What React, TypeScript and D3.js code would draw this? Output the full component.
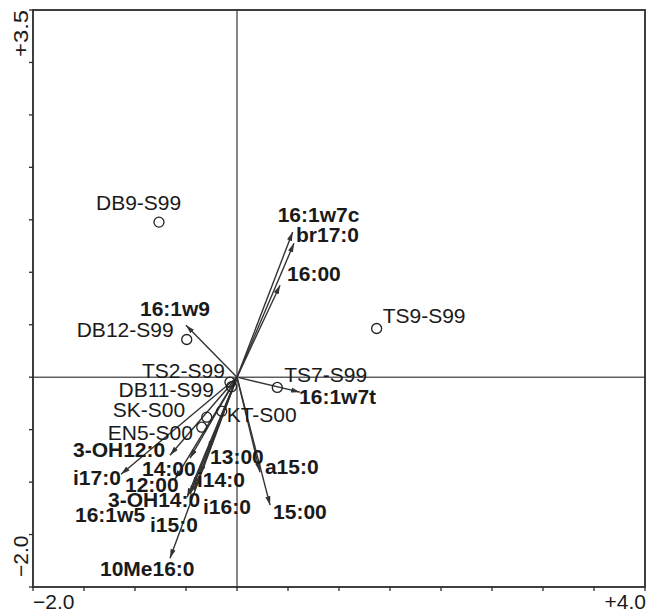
import React from "react";
import * as d3 from "d3";

// ---- data ----
const siteNames = ["DB9-S99", "DB12-S99", "TS9-S99", "TS7-S99", "TS2-S99", "DB11-S99", "SK-S00", "KT-S00", "EN5-S00"];
const siteX = [-0.765, -0.493, 1.369, 0.395, -0.069, -0.054, -0.297, -0.15, -0.346];
const siteY = [1.478, 0.359, 0.464, -0.098, -0.048, -0.091, -0.381, -0.324, -0.477];

const speciesNames = ["16:1w7c", "br17:0", "16:00", "16:1w9", "16:1w7t", "a15:0", "15:00", "13:00", "14:00", "3-OH12:0", "i17:0", "12:00", "i14:0", "i16:0", "3-OH14:0", "16:1w5", "i15:0", "10Me16:0"];
const speciesX = [0.546, 0.559, 0.422, -0.5, 0.618, 0.225, 0.324, -0.284, -0.461, -0.657, -1.137, -0.608, -0.363, -0.422, -0.461, -0.49, -0.431, -0.657];
const speciesY = [1.385, 1.277, 0.877, 0.496, -0.143, -0.906, -1.22, -0.696, -0.772, -0.744, -0.925, -0.972, -0.925, -1.077, -1.115, -1.144, -1.039, -1.725];

const xDomain = [-2, 4];
const yDomain = [-2, 3.5];
const xTickLabels = ["\u22122.0", "+4.0"];
const yTickLabels = ["\u22122.0", "+3.5"];

// ---- layout (label offsets in px, relative to point / arrow tip) ----
const siteLabelOffset: [number, number][] = [
  [-63, -12], [-110, -3], [6, -6], [7, -5], [-88, -4], [-113, 10], [-94, 0], [5, 11], [-94, 13],
];
const speciesLabelOffset: [number, number][] = [
  [-15, -10], [2, -1], [7, -4], [-46, -9], [-1, 12], [5, 2], [3, 14], [2, 14], [-48, 18],
  [-97, 2], [-48, 11], [-50, 13], [-3, 13], [9, 24], [-82, 13], [-112, 25], [-43, 46], [-70, 18],
];

const W = 659;
const H = 612;
const left = 33, right = 645, top = 10, bottom = 587;
const FONT = "'Liberation Sans', Arial, Helvetica, sans-serif";

export default function App() {
  const x = d3.scaleLinear().domain(xDomain).range([left, right]);
  const y = d3.scaleLinear().domain(yDomain).range([bottom, top]);
  const xTicks = d3.range(xDomain[0], xDomain[1] + 0.001, 0.5);
  const yTicks = d3.range(yDomain[0], yDomain[1] + 0.001, 0.5);
  const ox = x(0), oy = y(0);

  return (
    <svg width={W} height={H} style={{ position: "absolute", left: 0, top: 0, display: "block", background: "#fff" }} fontFamily={FONT}>
      <defs>
        <marker id="ah" viewBox="0 -3 9 6" refX="9" refY="0" markerWidth="9" markerHeight="6" markerUnits="userSpaceOnUse" orient="auto">
          <path d="M0,-2.6L9,0L0,2.6Z" fill="#333" />
        </marker>
      </defs>
      {/* zero lines */}
      <line x1={left} x2={right} y1={oy} y2={oy} stroke="#111" strokeWidth={1} />
      <line x1={ox} x2={ox} y1={top} y2={bottom} stroke="#111" strokeWidth={1} />
      {/* frame */}
      <rect x={left} y={top} width={right - left} height={bottom - top} fill="none" stroke="#2b2b2b" strokeWidth={1.8} />
      {xTicks.map((t, i) => (
        <line key={"xt" + i} x1={x(t)} x2={x(t)} y1={bottom} y2={bottom + 4} stroke="#2b2b2b" strokeWidth={1.3} />
      ))}
      {yTicks.map((t, i) => (
        <line key={"yt" + i} x1={left - 4} x2={left} y1={y(t)} y2={y(t)} stroke="#2b2b2b" strokeWidth={1.3} />
      ))}
      {/* axis labels */}
      <text x={x(xDomain[0])} y={609} fontSize={21} fill="#1a1a1a" textAnchor="start">{xTickLabels[0]}</text>
      <text x={x(xDomain[1]) + 1} y={609} fontSize={21} fill="#1a1a1a" textAnchor="end">{xTickLabels[1]}</text>
      <text transform={`translate(28,${y(yDomain[0]) - 10}) rotate(-90)`} fontSize={21} fill="#1a1a1a" textAnchor="start">{yTickLabels[0]}</text>
      <text transform={`translate(28,${y(yDomain[1])}) rotate(-90)`} fontSize={21} fill="#1a1a1a" textAnchor="end" textLength={47} lengthAdjust="spacingAndGlyphs">{yTickLabels[1]}</text>
      {/* arrows */}
      {speciesNames.map((n, i) => (
        <line key={"a" + i} x1={ox} y1={oy} x2={x(speciesX[i])} y2={y(speciesY[i])} stroke="#333" strokeWidth={1.4} markerEnd="url(#ah)" />
      ))}
      {/* sites */}
      {siteNames.map((n, i) => (
        <circle key={"c" + i} cx={x(siteX[i])} cy={y(siteY[i])} r={5} fill="none" stroke="#222" strokeWidth={1.3} />
      ))}
      {siteNames.map((n, i) => (
        <text key={"sl" + i} x={x(siteX[i]) + siteLabelOffset[i][0]} y={y(siteY[i]) + siteLabelOffset[i][1]} fontSize={21} fill="#1a1a1a">{n}</text>
      ))}
      {speciesNames.map((n, i) => (
        <text key={"spl" + i} x={x(speciesX[i]) + speciesLabelOffset[i][0]} y={y(speciesY[i]) + speciesLabelOffset[i][1]} fontSize={21} fontWeight="bold" fill="#1a1a1a">{n}</text>
      ))}
    </svg>
  );
}
